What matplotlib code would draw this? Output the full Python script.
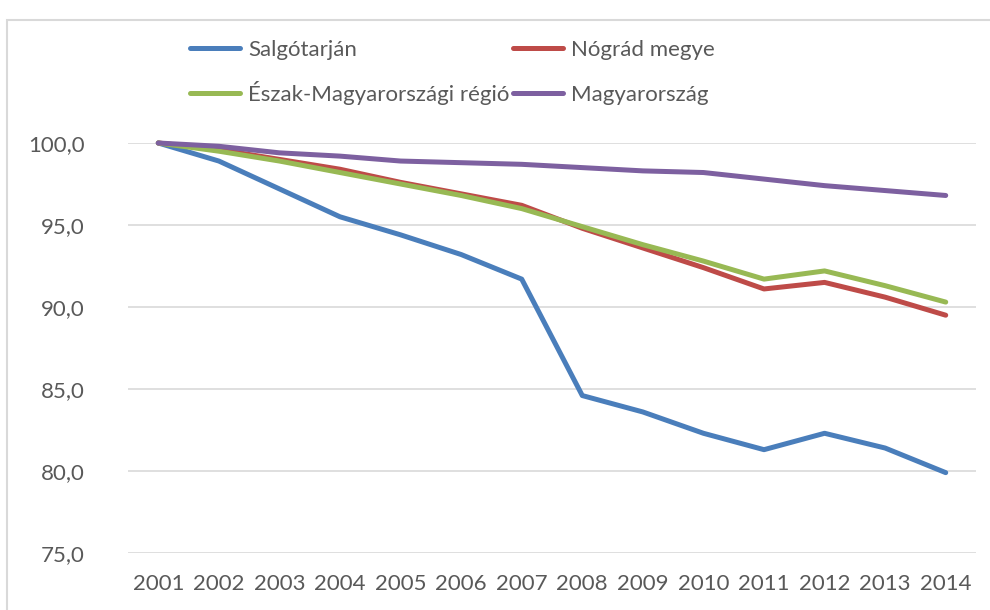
import matplotlib
matplotlib.use("Agg")
import matplotlib.pyplot as plt
from matplotlib.patches import Rectangle
from matplotlib.ticker import FuncFormatter

years = list(range(2001, 2015))
salgotarjan = [100.0, 98.9, 97.2, 95.5, 94.4, 93.2, 91.7, 84.6, 83.6, 82.3, 81.3, 82.3, 81.4, 79.9]
nograd = [100.0, 99.6, 99.0, 98.4, 97.6, 96.9, 96.2, 94.8, 93.6, 92.4, 91.1, 91.5, 90.6, 89.5]
eszak = [100.0, 99.5, 98.9, 98.2, 97.5, 96.8, 96.0, 94.9, 93.8, 92.8, 91.7, 92.2, 91.3, 90.3]
magyarorszag = [100.0, 99.8, 99.4, 99.2, 98.9, 98.8, 98.7, 98.5, 98.3, 98.2, 97.8, 97.4, 97.1, 96.8]

labels = ["Salgótarján", "Nógrád megye", "Észak-Magyarországi régió", "Magyarország"]
colors = ["#4A7EBB", "#BE4B48", "#98B954", "#7D60A0"]

plt.rcParams["font.family"] = ["Lato", "DejaVu Sans"]
text_color = "#595959"

fig = plt.figure(figsize=(9.9, 6.1), dpi=100)
# light chart frame, cut off at the right and bottom like the source
fig.patches.append(Rectangle((7 / 990, -0.1), 1.2, (600 - 10) / 610 + 0.1,
                             transform=fig.transFigure, fill=False,
                             edgecolor="#D9D9D9", linewidth=1.5))

ax = fig.add_axes([128 / 990, 1 - 553 / 610, (976 - 128) / 990, (553 - 143) / 610])

series = [salgotarjan, nograd, eszak, magyarorszag]
handles = []
for vals, col, lab in zip(series, colors, labels):
    (h,) = ax.plot(years, vals, color=col, linewidth=3.6, label=lab,
                   solid_capstyle="round", clip_on=False)
    handles.append(h)

ax.set_xlim(2000.5, 2014.5)
ax.set_ylim(75, 100)
ax.set_yticks([75, 80, 85, 90, 95, 100])
ax.yaxis.set_major_formatter(FuncFormatter(lambda v, p: f"{v:.1f}".replace(".", ",")))
ax.set_xticks(years)
ax.set_xticklabels([str(y) for y in years])
ax.grid(axis="y", color="#D9D9D9", linewidth=1.2)
ax.set_axisbelow(True)
for s in ax.spines.values():
    s.set_visible(False)
ax.tick_params(axis="both", length=0, labelsize=16, colors=text_color)
ax.tick_params(axis="y", pad=31)
ax.tick_params(axis="x", pad=15)

# one small legend per entry, bottom-anchored so the baselines line up in each row
legend_x = [190, 513, 190, 513]
legend_y = [60, 60, 105, 105]
for i, (h, lab) in enumerate(zip(handles, labels)):
    fig.legend(handles=[h], labels=[lab], loc="lower left",
               bbox_to_anchor=(legend_x[i] / 990, 1 - legend_y[i] / 610),
               frameon=False, borderpad=0, borderaxespad=0,
               fontsize=16, labelcolor=text_color, handlelength=2.25,
               handletextpad=0.36)

fig.savefig("out.png", dpi=100)
